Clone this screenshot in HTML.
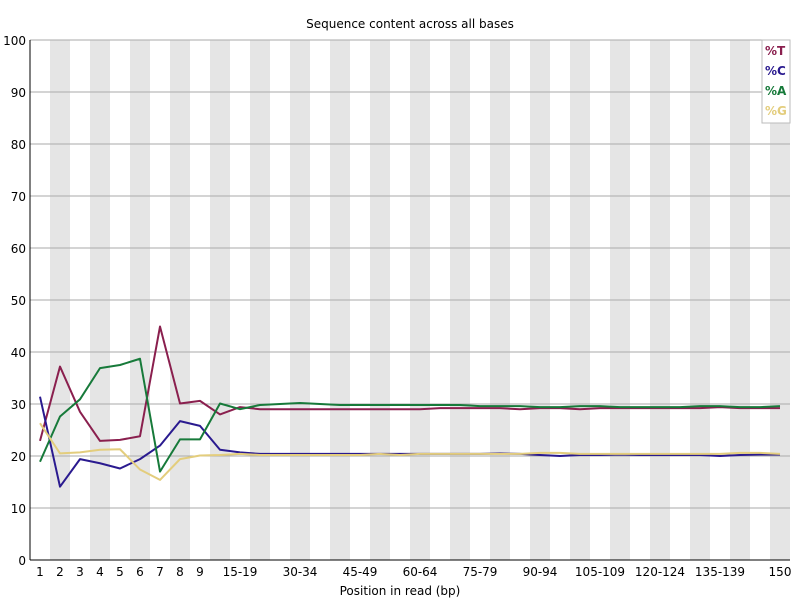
<!DOCTYPE html>
<html><head><meta charset="utf-8"><style>
body{margin:0;background:#fff}
svg text{font-family:"DejaVu Sans","Liberation Sans",sans-serif;font-size:12px;fill:#000}
</style></head><body>
<svg id="chart" width="800" height="600" xmlns="http://www.w3.org/2000/svg">
<g id="bands"></g><g id="grid"></g><g id="series"></g><g id="axes"></g>
</svg>
<script>
const categories=["1","2","3","4","5","6","7","8","9","10-14","15-19","20-24","25-29","30-34","35-39","40-44","45-49","50-54","55-59","60-64","65-69","70-74","75-79","80-84","85-89","90-94","95-99","100-104","105-109","110-114","115-119","120-124","125-129","130-134","135-139","140-144","145-149","150"];
const shownLabels=["1","2","3","4","5","6","7","8","9","15-19","30-34","45-49","60-64","75-79","90-94","105-109","120-124","135-139","150"];
const yTicks=[0,10,20,30,40,50,60,70,80,90,100];
const seriesT=[22.9,37.2,28.5,22.9,23.1,23.8,44.9,30.1,30.6,28.0,29.4,29.0,29.0,29.0,29.0,29.0,29.0,29.0,29.0,29.0,29.2,29.2,29.2,29.2,29.0,29.2,29.2,29.0,29.2,29.2,29.2,29.2,29.2,29.2,29.4,29.2,29.2,29.2];
const seriesC=[31.4,14.1,19.4,18.6,17.6,19.4,22.0,26.7,25.8,21.2,20.7,20.4,20.4,20.4,20.4,20.4,20.4,20.4,20.4,20.4,20.4,20.4,20.4,20.5,20.4,20.2,20.0,20.2,20.2,20.3,20.2,20.2,20.2,20.2,20.0,20.2,20.3,20.3];
const seriesA=[18.9,27.6,30.9,36.9,37.5,38.7,17.0,23.2,23.2,30.1,29.0,29.8,30.0,30.2,30.0,29.8,29.8,29.8,29.8,29.8,29.8,29.8,29.6,29.6,29.6,29.4,29.4,29.6,29.6,29.4,29.4,29.4,29.4,29.6,29.6,29.4,29.4,29.6];
const seriesG=[26.3,20.5,20.7,21.2,21.3,17.4,15.4,19.4,20.1,20.2,20.4,20.2,20.2,20.2,20.2,20.2,20.2,20.4,20.2,20.4,20.4,20.4,20.4,20.4,20.4,20.6,20.6,20.4,20.4,20.4,20.4,20.4,20.4,20.4,20.4,20.6,20.6,20.4];
const names=["%T","%C","%A","%G"];
const colors=["#8a1f4e","#2a1a8f","#177a3a","#e3cd7d"];
const NS="http://www.w3.org/2000/svg";
const X0=30,X1=790,Y0=560,Y1=40,bw=(X1-X0)/categories.length;
const xs=i=>X0+bw*i+bw/2, ys=v=>Y0-(v/100)*(Y0-Y1);
function mk(t,a,p){const e=document.createElementNS(NS,t);for(const k in a)e.setAttribute(k,a[k]);p.appendChild(e);return e;}
const bands=document.getElementById('bands'),grid=document.getElementById('grid'),ser=document.getElementById('series'),ax=document.getElementById('axes');
categories.forEach((c,i)=>{if(i%2==1){const r=mk('rect',{x:X0+bw*i,y:Y1,width:bw,height:Y0-Y1,fill:'#e5e5e5'},bands);

}});
yTicks.forEach(v=>{if(v>0){const l=mk('line',{x1:X0,x2:X1,y1:ys(v),y2:ys(v),stroke:'#aaa','stroke-width':1},grid);

}
const t=mk('text',{x:26,y:ys(v)+5,'text-anchor':'end'},ax);t.textContent=v;

});
categories.forEach((c,i)=>{if(shownLabels.includes(c)){const t=mk('text',{x:xs(i),y:576,'text-anchor':'middle'},ax);t.textContent=c;

}});
[seriesT,seriesC,seriesA,seriesG].forEach((s,k)=>{const p=mk('polyline',{points:s.map((v,i)=>xs(i)+','+ys(v)).join(' '),fill:'none',stroke:colors[k],'stroke-width':2,'stroke-linejoin':'round'},ser);

});
const al=mk('line',{x1:X0,x2:X0,y1:Y1,y2:Y0,stroke:'#000','stroke-width':1},ax);


const bl=mk('line',{x1:X0,x2:X1,y1:Y0,y2:Y0,stroke:'#000','stroke-width':1},ax);


const title=mk('text',{x:410,y:28,'text-anchor':'middle'},ax);title.textContent='Sequence content across all bases';


const xt=mk('text',{x:400,y:595,'text-anchor':'middle'},ax);xt.textContent='Position in read (bp)';


const lg=mk('g',{},ax);


mk('rect',{x:762,y:40,width:28,height:83,fill:'#fff',stroke:'#bbb'},lg);
names.forEach((n,k)=>{const t=mk('text',{x:765,y:55+k*20,fill:colors[k],style:'fill:'+colors[k]+';font-weight:bold'},lg);t.textContent=n;

});
</script>
</body></html>
